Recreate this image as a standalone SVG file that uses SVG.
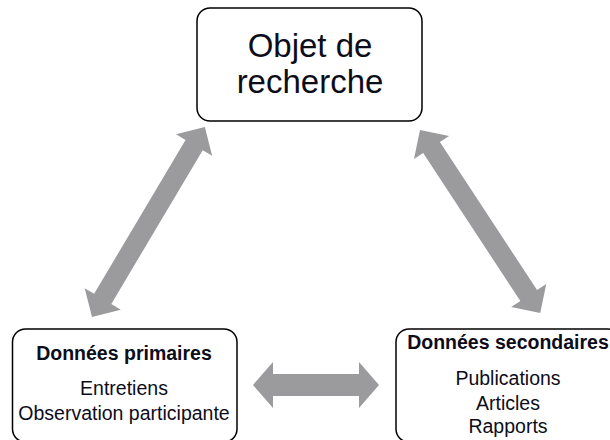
<svg xmlns="http://www.w3.org/2000/svg" width="610" height="440" viewBox="0 0 610 440">
<style>
.box{fill:#fff;stroke:#000;stroke-width:1.5}
.t{font-family:"Liberation Sans",Arial,sans-serif;fill:#0d0d1a;text-anchor:middle}
.big{font-size:33px}
.b{font-size:19.5px;font-weight:bold}
.n{font-size:19.5px}
.arr{fill:#9b9b9e}
</style>
<rect width="610" height="440" fill="#fff"/>
<g id="connectors">
<polygon class="arr" transform="translate(92,317) rotate(-59.3)" points="0,0 21,-21 21,-10 200,-10 200,-21 221,0 200,21 200,10 21,10 21,21"/>
<polygon class="arr" transform="translate(420,130) rotate(56.7)" points="0,0 21,-21 21,-10 198,-10 198,-21 219,0 198,21 198,10 21,10 21,21"/>
<polygon class="arr" transform="translate(253,385)" points="0,0 20,-23 20,-11 106,-11 106,-23 126,0 106,23 106,11 20,11 20,23"/>
</g>
<g id="objet">
<rect class="box" x="197" y="8" width="225" height="113" rx="13"/>
<text class="t big" x="310" y="57">Objet de</text>
<text class="t big" x="310" y="93">recherche</text>
</g>
<g id="primaires">
<rect class="box" x="12.5" y="329" width="224.5" height="113" rx="13"/>
<text class="t b" x="124" y="360">Données primaires</text>
<text class="t n" x="124" y="395">Entretiens</text>
<text class="t n" x="124" y="420">Observation participante</text>
</g>
<g id="secondaires">
<rect class="box" x="396" y="329" width="225" height="113" rx="13"/>
<text class="t b" x="508" y="349">Données secondaires</text>
<text class="t n" x="508" y="385">Publications</text>
<text class="t n" x="508" y="410">Articles</text>
<text class="t n" x="508" y="433">Rapports</text>
</g>
</svg>
